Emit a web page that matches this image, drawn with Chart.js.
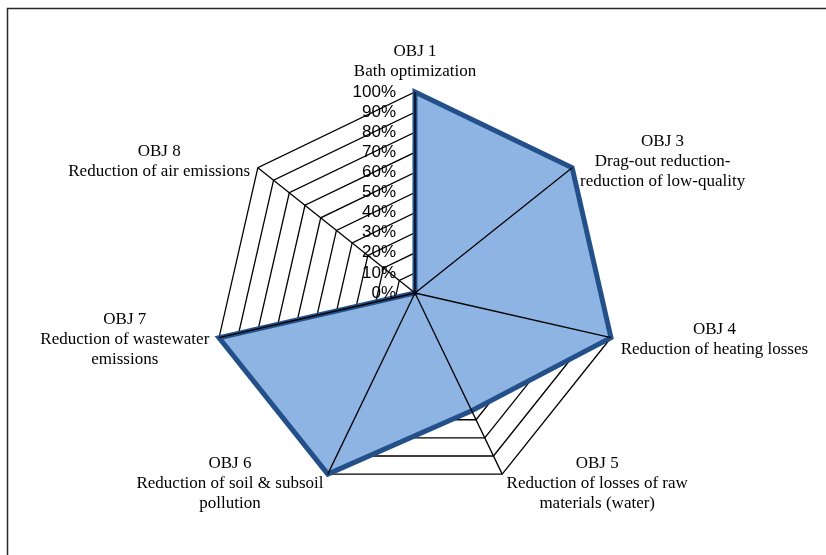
<!DOCTYPE html>
<html>
<head>
<meta charset="utf-8">
<script src="https://cdn.jsdelivr.net/npm/chart.js@4/dist/chart.umd.min.js"></script>
<style>
  html, body { margin: 0; padding: 0; background: #ffffff; }
  #wrap { position: relative; width: 826px; height: 555px; }
</style>
</head>
<body>
<div id="wrap"><canvas id="c"></canvas></div>
<script>
// ---- data ----
const categories = ['OBJ 1', 'OBJ 3', 'OBJ 4', 'OBJ 5', 'OBJ 6', 'OBJ 7', 'OBJ 8'];
const descriptions = [
  ['Bath optimization'],
  ['Drag-out reduction-', 'reduction of low-quality'],
  ['Reduction of heating losses'],
  ['Reduction of losses of raw', 'materials (water)'],
  ['Reduction of soil & subsoil', 'pollution'],
  ['Reduction of wastewater', 'emissions'],
  ['Reduction of air emissions']
];
const values = [1, 1, 1, 0.65, 1, 1, 0];
const tickMin = 0, tickMax = 1, tickStep = 0.1;

const labels = categories.map((c, i) => [c].concat(descriptions[i]));

const frame = {
  id: 'frame',
  beforeDraw(chart) {
    const ctx = chart.ctx;
    ctx.save();
    ctx.strokeStyle = '#2a2a2a';
    ctx.lineWidth = 1.5;
    ctx.beginPath();
    ctx.moveTo(7.5, 555);
    ctx.lineTo(7.5, 8.5);
    ctx.lineTo(826, 8.5);
    ctx.stroke();
    ctx.restore();
  }
};

const overlay = {
  id: 'overlay',
  afterDatasetsDraw(chart) {
    const s = chart.scales.r;
    const ctx = chart.ctx;
    const n = chart.data.labels.length;
    ctx.save();
    // angle lines on top of the filled area
    ctx.strokeStyle = '#000000';
    ctx.lineWidth = 1.3;
    for (let i = 0; i < n; i++) {
      const p = s.getPointPosition(i, s.drawingArea);
      ctx.beginPath();
      ctx.moveTo(s.xCenter, s.yCenter);
      ctx.lineTo(p.x, p.y);
      ctx.stroke();
    }
    // tick labels, right-aligned left of the first axis
    ctx.fillStyle = '#000000';
    ctx.font = '17px "Liberation Sans", Arial, sans-serif';
    ctx.textAlign = 'right';
    ctx.textBaseline = 'middle';
    s.ticks.forEach(t => {
      const d = s.getDistanceFromCenterForValue(t.value);
      ctx.fillText(Math.round(t.value * 100) + '%', s.xCenter - 19, s.yCenter - d);
    });
    // point labels
    ctx.font = '17px "Liberation Serif", "Times New Roman", serif';
    ctx.textAlign = 'center';
    const lh = 20;
    const pad = 10;
    chart.data.labels.forEach((lines, i) => {
      const a = s.getPointPosition(i, s.drawingArea + pad);
      const w = Math.max.apply(null, lines.map(l => ctx.measureText(l).width));
      const h = lines.length * lh;
      let cx, top;
      const dx = a.x - s.xCenter;
      if (Math.abs(dx) < 2) {
        cx = a.x;
        top = (a.y < s.yCenter) ? a.y - h : a.y;
      } else {
        cx = dx > 0 ? a.x + w / 2 : a.x - w / 2;
        top = a.y - h / 2;
      }
      lines.forEach((l, k) => ctx.fillText(l, cx, top + lh * (k + 0.5)));
    });
    ctx.restore();
  }
};

new Chart(document.getElementById('c'), {
  type: 'radar',
  data: {
    labels: labels,
    datasets: [{
      data: values,
      backgroundColor: '#8EB4E3',
      borderColor: '#24508A',
      borderWidth: 5,
      borderJoinStyle: 'miter',
      pointRadius: 0,
      pointHoverRadius: 0,
      fill: true,
      tension: 0
    }]
  },
  options: {
    responsive: true,
    maintainAspectRatio: false,
    animation: false,
    events: [],
    layout: { padding: { top: 92, bottom: 61, left: 10, right: 6 } },
    plugins: { legend: { display: false }, tooltip: { enabled: false } },
    scales: {
      r: {
        min: tickMin,
        max: tickMax,
        beginAtZero: true,
        startAngle: 0,
        ticks: { stepSize: tickStep, display: false, showLabelBackdrop: false },
        pointLabels: { display: false },
        grid: { color: '#000000', lineWidth: 1.3, circular: false },
        angleLines: { display: false }
      }
    }
  },
  plugins: [frame, overlay]
});
</script>
</body>
</html>
